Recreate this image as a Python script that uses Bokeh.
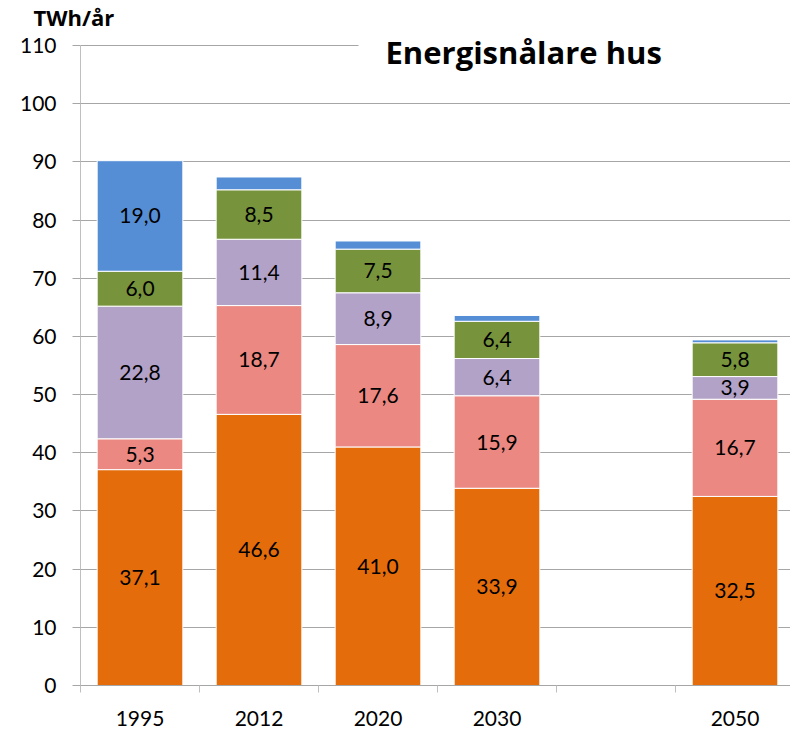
from bokeh.plotting import figure
from bokeh.models import ColumnDataSource, Range1d, FixedTicker, Label, BoxAnnotation, Title
from bokeh.core.properties import value
from bokeh.embed import file_html
from bokeh.resources import INLINE

# ---- data ----
categories = ["1995", "2012", "2020", "2030", "", "2050"]
orange = [37.1, 46.6, 41.0, 33.9, None, 32.5]
salmon = [5.3, 18.7, 17.6, 15.9, None, 16.7]
lavender = [22.8, 11.4, 8.9, 6.4, None, 3.9]
green = [6.0, 8.5, 7.5, 6.4, None, 5.8]
blue = [19.0, 2.2, 1.4, 1.0, None, 0.5]
y_ticks = list(range(0, 111, 10))
title_text = "Energisnålare hus"
unit_text = "TWh/år"

series = [orange, salmon, lavender, green, blue]
names = ["orange", "salmon", "lavender", "green", "blue"]
colors = ["#E46C0A", "#EB8882", "#B3A2C7", "#77933C", "#558ED5"]

FONT = "Lato"
GRID = "#A6A6A6"
AXIS = "#BFBFBF"

idx = [i for i, c in enumerate(categories) if c != ""]
data = {"x": [i + 0.5 for i in idx]}
for n, s in zip(names, series):
    data[n] = [s[i] for i in idx]
source = ColumnDataSource(data)

XEND = 710 / 119
PX = 640 / 110          # pixels per unit
TOP = 26                # frame top in px
YEND = 110 + (45 - TOP) / PX
p = figure(width=790, height=729, output_backend="svg", toolbar_location=None,
           x_range=Range1d(0, XEND), y_range=Range1d(0, YEND),
           min_border_left=80, min_border_right=0, min_border_top=TOP, min_border_bottom=44)
p.outline_line_color = None
p.background_fill_color = "white"

p.vbar_stack(names, x="x", width=0.72, source=source, color=colors,
             line_color="white", line_width=1)

# segment labels
lx, ly, lt = [], [], []
for i in idx:
    base = 0.0
    for s in series:
        v = s[i]
        if v >= 3:
            lx.append(i + 0.5)
            ly.append(base + v / 2)
            lt.append(f"{v:.1f}".replace(".", ","))
        base += v
p.text(x=lx, y=ly, text=lt, text_align="center", text_baseline="middle",
       text_font=value(FONT), text_font_size="21px", text_color="black")

# axes
p.xgrid.visible = False
p.ygrid.grid_line_color = GRID
p.ygrid.grid_line_width = 1
p.ygrid.ticker = FixedTicker(ticks=y_ticks)

p.yaxis.ticker = FixedTicker(ticks=y_ticks)
p.yaxis.bounds = (0, 110)
p.yaxis.axis_line_color = AXIS
p.yaxis.major_tick_line_color = GRID
p.yaxis.major_tick_out = 8
p.yaxis.major_tick_in = 0
p.yaxis.minor_tick_line_color = None
p.yaxis.major_label_standoff = 16
p.yaxis.major_label_text_font = FONT
p.yaxis.major_label_text_font_size = "21px"
p.yaxis.major_label_text_color = "black"

p.xaxis.ticker = FixedTicker(ticks=[i + 0.5 for i in range(len(categories))],
                             minor_ticks=list(range(len(categories) + 1)))
p.xaxis.major_label_overrides = {i + 0.5: c for i, c in enumerate(categories)}
p.xaxis.axis_line_color = GRID
p.xaxis.major_tick_line_color = None
p.xaxis.major_tick_out = 0
p.xaxis.major_tick_in = 0
p.xaxis.minor_tick_line_color = AXIS
p.xaxis.minor_tick_out = 7
p.xaxis.minor_tick_in = 0
p.xaxis.major_label_standoff = 18
p.xaxis.major_label_text_font = FONT
p.xaxis.major_label_text_font_size = "21px"
p.xaxis.major_label_text_color = "black"

# white backing behind the title hides the top gridline
p.add_layout(BoxAnnotation(left=(358 - 80) / 119, right=XEND, bottom=108.8, top=YEND,
                           fill_color="white", fill_alpha=1, line_color=None))
p.add_layout(Label(x=385, y=51, x_units="canvas", y_units="canvas", text=title_text,
                   text_font="Open Sans", text_font_style="bold", text_font_size="31px",
                   text_baseline="alphabetic", text_color="black"))
p.add_layout(Title(text=unit_text, align="left", offset=-47, standoff=-10,
                   text_font="Open Sans", text_font_style="bold", text_font_size="22px",
                   text_color="black"), "above")

open("out.html", "w").write(file_html(p, INLINE))
